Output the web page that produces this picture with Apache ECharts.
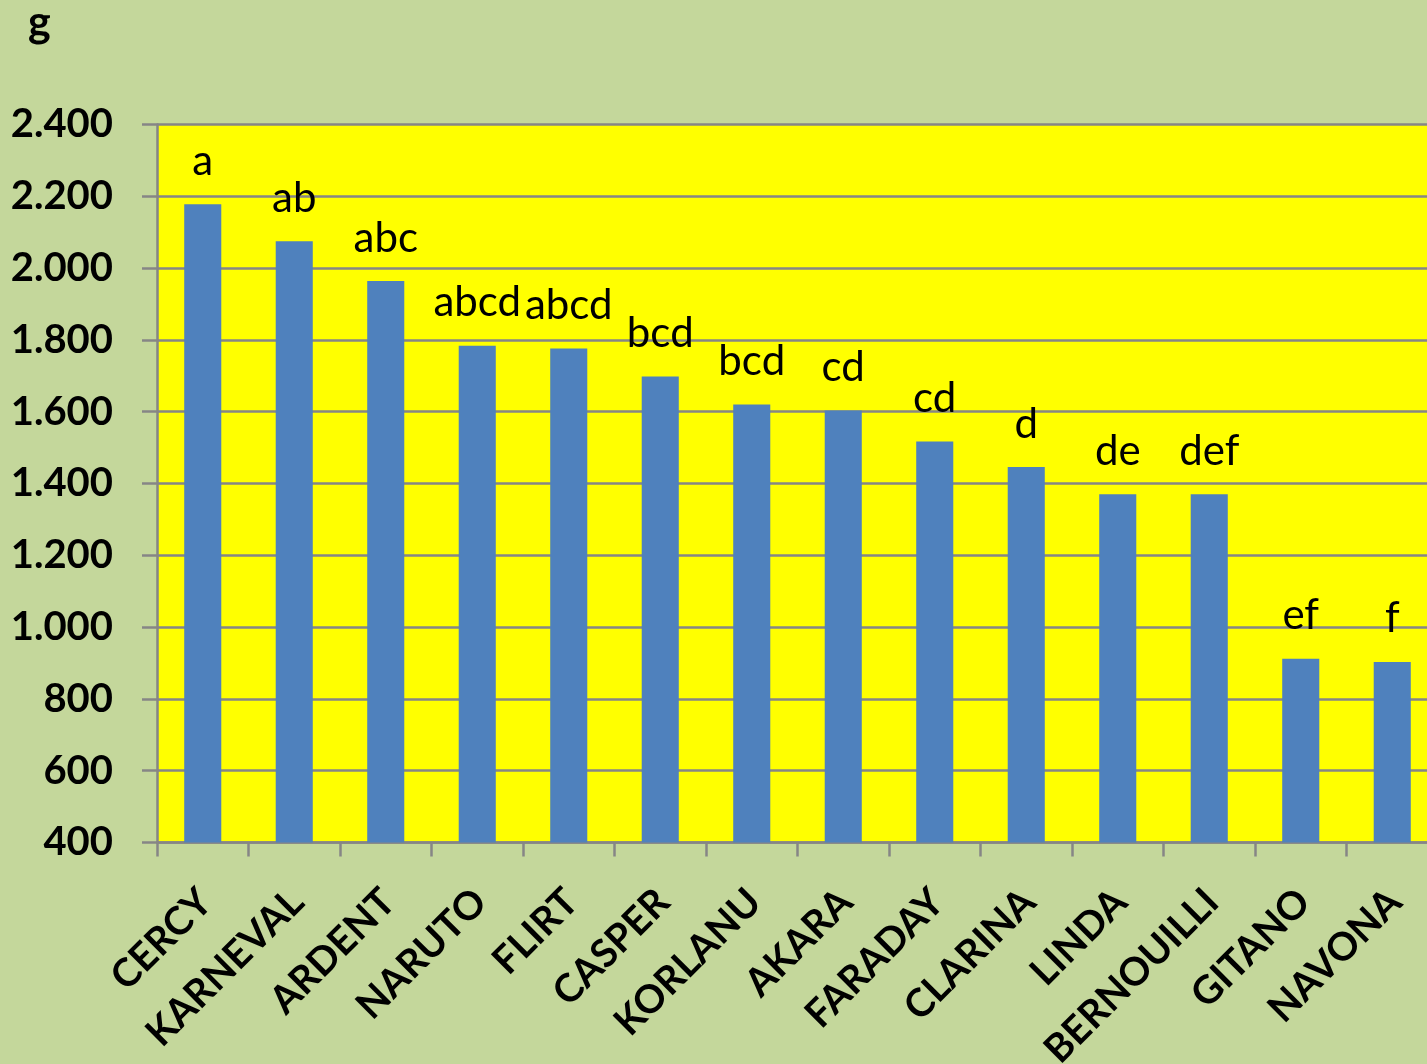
<!DOCTYPE html>
<html>
<head>
<meta charset="utf-8">
<script src="https://cdn.jsdelivr.net/npm/echarts@6/dist/echarts.min.js"></script>
<style>
html,body{margin:0;padding:0;background:#C4D79B;}
#chart{width:1427px;height:1064px;}
</style>
</head>
<body>
<div id="chart"></div>
<script>
const categories = ['CERCY','KARNEVAL','ARDENT','NARUTO','FLIRT','CASPER','KORLANU','AKARA','FARADAY','CLARINA','LINDA','BERNOUILLI','GITANO','NAVONA'];
const values = [2178, 2075, 1964, 1784, 1776, 1698, 1620, 1603, 1517, 1446, 1370, 1370, 912, 903];
const letters = ['a','ab','abc','abcd','abcd','bcd','bcd','cd','cd','d','de','def','ef','f'];
const unitLabel = 'g';

const chart = echarts.init(document.getElementById('chart'), null, {renderer:'canvas'});
chart.setOption({
  backgroundColor: '#C4D79B',
  animation: false,
  title: {
    text: unitLabel, left: 23, top: -3,
    textStyle: {fontFamily: 'Lato', fontWeight: 'bold', fontSize: 43, color: '#000'}
  },
  grid: {left: 157, right: -11, top: 124.5, bottom: 221.5, show: true, backgroundColor: '#FFFF00', borderWidth: 0, containLabel: false, outerBoundsMode: 'none'},
  xAxis: {
    type: 'category', data: categories,
    axisLine: {show: true, lineStyle: {color: '#868686', width: 2.5}},
    axisTick: {show: true, length: 14, alignWithLabel: false, lineStyle: {color: '#868686', width: 2.5}},
    axisLabel: {
      rotate: 45, interval: 0, margin: 56, color: '#000',
      fontFamily: 'Lato', fontWeight: 'bold', fontSize: 39,
      padding: [0, -4, 0, 0]
    }
  },
  yAxis: {
    type: 'value', min: 400, max: 2400, interval: 200,
    axisLine: {show: true, lineStyle: {color: '#868686', width: 2.5}},
    axisTick: {show: true, length: 15, lineStyle: {color: '#868686', width: 2.5}},
    splitLine: {show: true, lineStyle: {color: '#868686', width: 2.5}},
    axisLabel: {
      margin: 44, color: '#000', fontFamily: 'Lato', fontWeight: 'bold', fontSize: 40,
      formatter: v => v >= 1000 ? Math.floor(v/1000) + '.' + String(v % 1000).padStart(3,'0') : String(v)
    }
  },
  series: [{
    type: 'bar', data: values, barWidth: '40.5%',
    itemStyle: {color: '#4F81BD'},
    label: {
      show: true, position: 'top', distance: 22,
      formatter: p => letters[p.dataIndex],
      fontFamily: 'Lato', fontSize: 42, color: '#000'
    }
  }]
});
</script>
</body>
</html>
